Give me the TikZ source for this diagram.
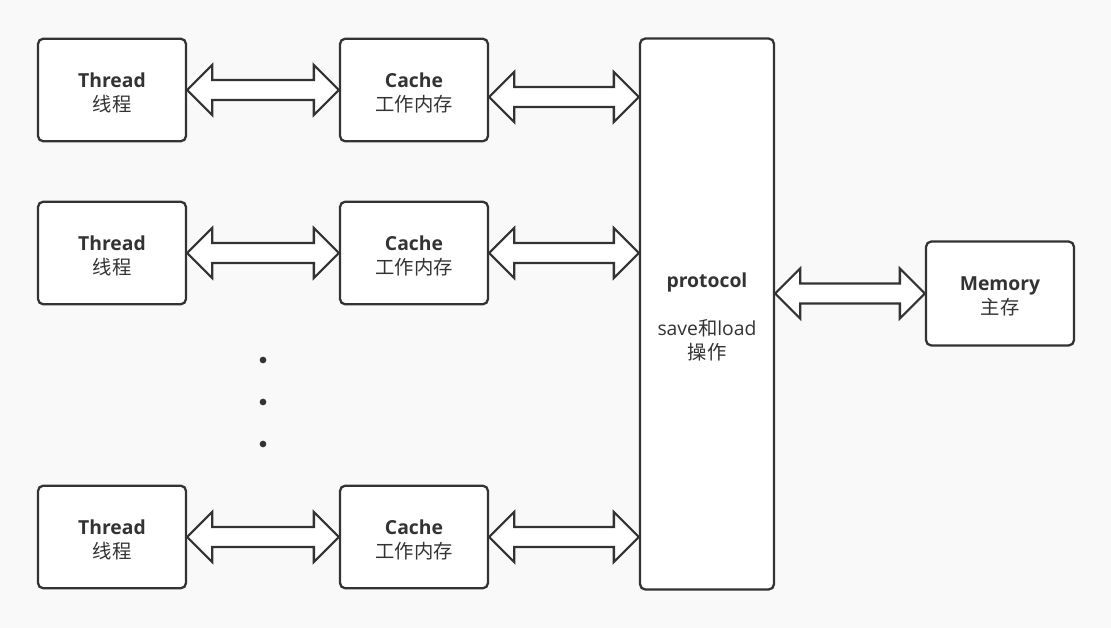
\documentclass[tikz,border=0pt]{standalone}
\usepackage{fontspec}
\setmainfont{Open Sans}
\newfontfamily\cjk{Noto Sans CJK SC}
\usepackage{xcolor}
\usepackage{tikz}
\usetikzlibrary{calc, positioning}
\definecolor{linecolor}{RGB}{51,51,51}
\definecolor{bgcolor}{RGB}{249,249,249}
\newcommand{\boxfont}{\fontsize{14.5}{18}\selectfont}
\newcommand{\topstrut}{\rule{0pt}{15pt}}
% fat white double arrow between two points
\newcommand{\fatarrow}[2]{%
	\draw[fatarr] let \p1=(#1), \p2=(#2) in
		(\x1,\y1) -- ({\x1+18.75pt},{\y1+18.75pt}) -- ({\x1+18.75pt},{\y1+7.5pt})
		-- ({\x2-18.75pt},{\y1+7.5pt}) -- ({\x2-18.75pt},{\y1+18.75pt}) -- (\x2,\y1)
		-- ({\x2-18.75pt},{\y1-18.75pt}) -- ({\x2-18.75pt},{\y1-7.5pt})
		-- ({\x1+18.75pt},{\y1-7.5pt}) -- ({\x1+18.75pt},{\y1-18.75pt}) -- cycle;}

\begin{document}
\begin{tikzpicture}[x=0.75pt, y=-0.75pt]
	\tikzstyle{unitbox}=[draw=linecolor, line width=1.7pt, fill=white, rounded corners=4pt, minimum width=111pt, minimum height=77pt, align=center, text=linecolor, font=\boxfont, inner sep=0pt]
	\tikzstyle{fatarr}=[draw=linecolor, line width=1.7pt, fill=white]
	\tikzstyle{vdot}=[circle, fill=linecolor, inner sep=0pt, minimum size=5pt]
	\fill[bgcolor] (0,0) rectangle (1111,628);
	\useasboundingbox (0,0) rectangle (1111,628);

	\node (t01) at (112,90) [unitbox]{\topstrut\textbf{Thread}\\{\cjk 线程}};
	\node (t02) at (112,253) [unitbox]{\topstrut\textbf{Thread}\\{\cjk 线程}};
	\node (t03) at (112,537) [unitbox]{\topstrut\textbf{Thread}\\{\cjk 线程}};
	\node (c01) at (414,90) [unitbox]{\topstrut\textbf{Cache}\\{\cjk 工作内存}};
	\node (c02) at (414,253) [unitbox]{\topstrut\textbf{Cache}\\{\cjk 工作内存}};
	\node (c03) at (414,537) [unitbox]{\topstrut\textbf{Cache}\\{\cjk 工作内存}};
	\node (pr) at (707,314) [unitbox, minimum width=100.5pt, minimum height=413.25pt]{\topstrut\textbf{protocol}\\[18pt]save{\cjk 和}load\\{\cjk 操作}};
	\node (mem) at (1000,293.5) [unitbox, minimum height=78pt]{\topstrut\textbf{Memory}\\{\cjk 主存}};

	\node (d01) at (263,360) [vdot]{};
	\node (d02) at (263,402) [vdot]{};
	\node (d03) at (263,444) [vdot]{};

	\coordinate (a01) at ($(c01.east)+(0,7)$);
	\fatarrow{t01.east}{c01.west}
	\fatarrow{t02.east}{c02.west}
	\fatarrow{t03.east}{c03.west}
	\fatarrow{a01}{a01 -| pr.west}
	\fatarrow{c02.east}{c02.east -| pr.west}
	\fatarrow{c03.east}{c03.east -| pr.west}
	\fatarrow{mem.west -| pr.east}{mem.west}
\end{tikzpicture}
\end{document}
